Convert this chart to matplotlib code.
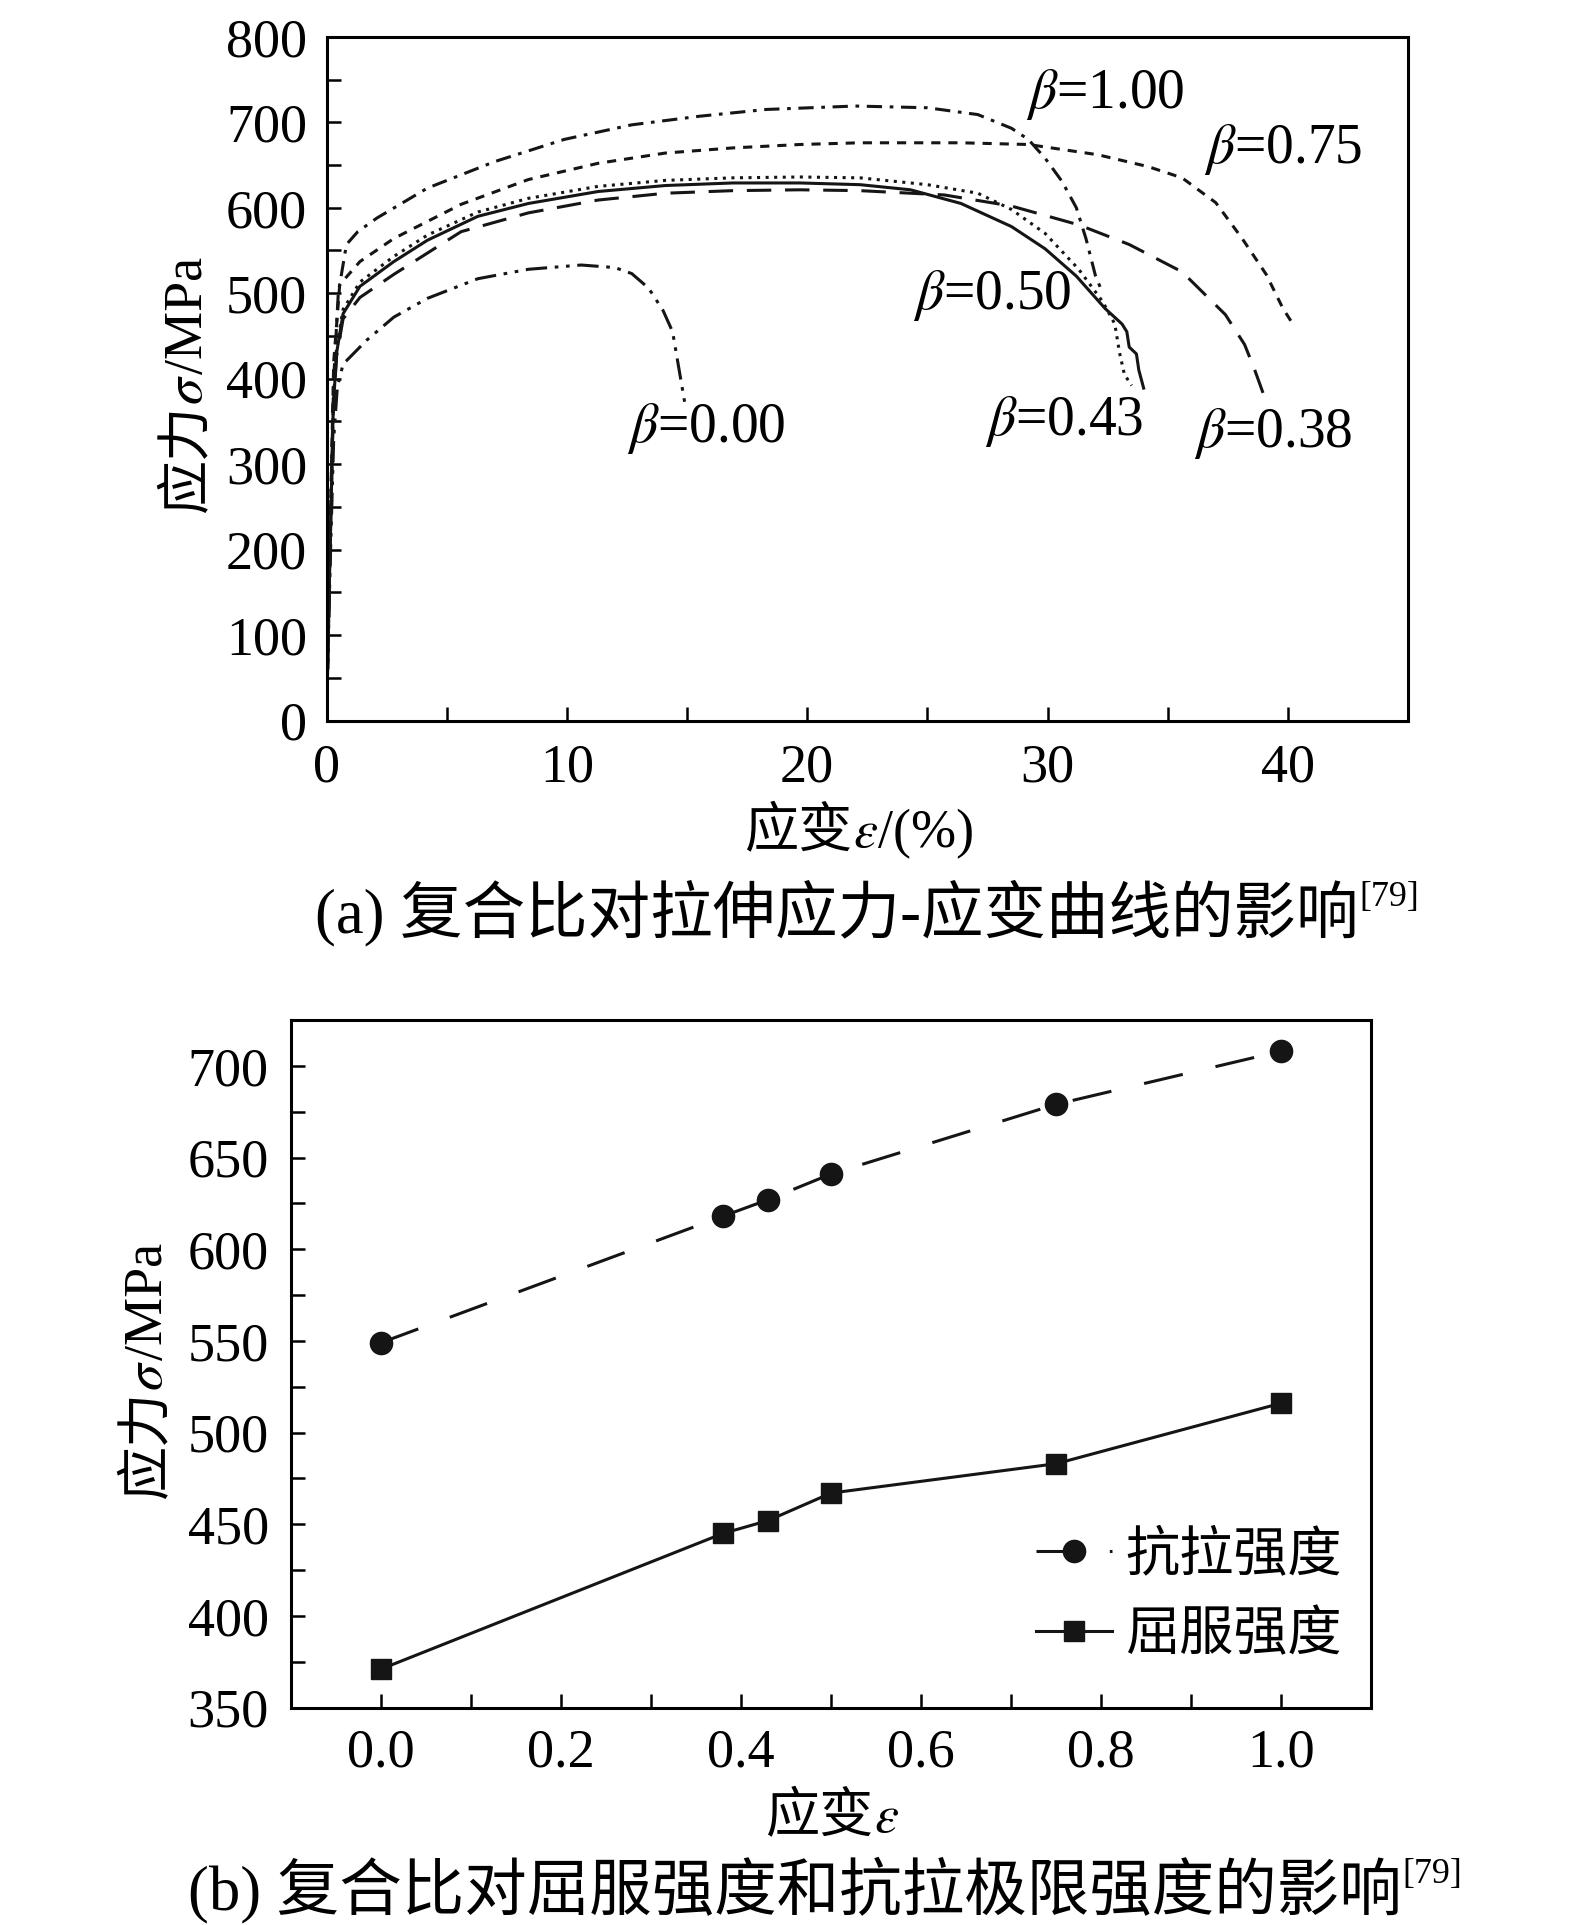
import matplotlib
matplotlib.use('Agg')
import matplotlib.pyplot as plt
from matplotlib.ticker import MultipleLocator
from matplotlib.transforms import offset_copy

plt.rcParams['font.family'] = ['Liberation Serif', 'Noto Sans CJK SC']
plt.rcParams['mathtext.fontset'] = 'stix'

# (a) stress-strain curves
eps_100 = [0, 0.15, 0.3, 0.49, 0.83, 1.3, 2.1, 4.2, 7.0, 9.9, 12.7, 15.5, 18.3, 22.0, 25.0, 27.1, 28.5, 29.2, 29.9, 30.6, 31.2, 31.6, 32.0, 32.3]
sig_100 = [0, 220, 400, 500, 557, 572, 588, 623, 654, 680, 697, 707, 715, 719, 717, 709, 693, 680, 658, 631, 600, 564, 520, 500]

eps_075 = [0, 0.15, 0.3, 0.55, 1.39, 2.8, 5.6, 8.4, 11.3, 14.1, 16.9, 19.7, 22.2, 26.4, 29.2, 32.1, 34.2, 35.6, 37.0, 38.1, 39.1, 39.8, 40.3]
sig_075 = [0, 220, 420, 510, 537, 564, 604, 633, 652, 664, 670, 674, 676, 676, 674, 662, 648, 635, 606, 564, 522, 482, 460]

eps_050 = [0, 0.15, 0.28, 0.42, 0.69, 1.39, 2.8, 4.2, 6.3, 8.4, 11.3, 14.1, 16.9, 19.7, 22.2, 25.0, 27.1, 28.5, 29.9, 31.3, 32.3, 32.8, 33.0, 33.2, 33.5]
sig_050 = [0, 200, 370, 436, 481, 513, 543, 568, 595, 611, 625, 632, 635, 636, 635, 627, 617, 598, 570, 528, 490, 464, 430, 405, 392]

eps_043 = [0, 0.15, 0.28, 0.42, 0.69, 1.39, 2.8, 4.2, 6.3, 8.4, 11.3, 14.1, 16.9, 19.7, 22.2, 24.3, 26.4, 28.5, 29.9, 31.2, 32.4, 33.1, 33.3, 33.4, 33.7, 33.8, 34.0]
sig_043 = [0, 200, 365, 430, 476, 508, 537, 562, 590, 605, 619, 626, 629, 629, 627, 621, 605, 578, 552, 520, 482, 464, 455, 437, 429, 410, 389]

eps_038 = [0, 0.15, 0.28, 0.42, 0.69, 1.39, 2.8, 5.6, 8.4, 11.3, 14.1, 16.9, 19.7, 22.2, 25.7, 28.5, 31.3, 33.4, 35.6, 37.4, 38.2, 38.6, 39.1]
sig_038 = [0, 200, 365, 426, 470, 495, 522, 572, 594, 609, 617, 620, 621, 620, 615, 602, 580, 557, 525, 475, 440, 412, 373]

eps_000 = [0, 0.15, 0.3, 0.45, 0.69, 1.67, 2.8, 4.2, 6.3, 8.4, 10.6, 12.0, 12.7, 13.4, 14.0, 14.4, 14.9]
sig_000 = [0, 180, 330, 390, 417, 445, 472, 494, 517, 528, 533, 530, 523, 506, 480, 455, 373]

curve_labels = ['1.00', '0.75', '0.50', '0.43', '0.38', '0.00']
label_eps = [32.4, 39.8, 27.7, 30.7, 39.4, 15.8]
label_sig = [733, 668, 497, 350, 336, 342]

# (b) strength vs ratio
beta_ratio = [0.0, 0.38, 0.43, 0.50, 0.75, 1.00]
tensile = [549, 618, 627, 641, 679, 708]
yield_str = [371, 445, 452, 467, 483, 516]

W, H = 1575, 1925
fig = plt.figure(figsize=(W / 100, H / 100), dpi=100)


def fpos(x, y):
    return x / W, 1 - y / H


def rich_text(x, y, pieces, size, rotation=0):
    # pieces drawn one after another, centred on (x, y) baseline, pixel coords
    renderer = fig.canvas.get_renderer()
    fx, fy = fpos(x, y)
    arts, lens = [], []
    for s, kw in pieces:
        kw = dict(kw)
        rise = kw.pop('rise', 0)
        kw.setdefault('fontsize', size)
        t = fig.text(fx, fy, s, rotation=rotation, rotation_mode='anchor',
                     ha='left', va='baseline', **kw)
        ext = t.get_window_extent(renderer)
        arts.append((t, rise))
        lens.append(ext.width if rotation == 0 else ext.height)
    pos = -sum(lens) / 2
    for (t, rise), L in zip(arts, lens):
        if rotation == 0:
            t.set_transform(offset_copy(fig.transFigure, x=pos, y=rise, units='dots'))
        else:
            t.set_transform(offset_copy(fig.transFigure, x=-rise, y=pos, units='dots'))
        pos += L


tick_fs = 39
ink = '#151515'

# ---------- (a) ----------
ax1 = fig.add_axes([326.5 / W, 1 - 720.6 / H, (1408 - 326.5) / W, (720.6 - 36.8) / H])
lw = 2.2
ax1.plot(eps_100, sig_100, color=ink, lw=lw, ls=(0, (5, 2.5, 1.2, 2.5)))
ax1.plot(eps_075, sig_075, color=ink, lw=lw, ls=(0, (3, 2.6)))
ax1.plot(eps_050, sig_050, color=ink, lw=lw, ls=(0, (1, 1.8)))
ax1.plot(eps_043, sig_043, color=ink, lw=lw, ls='-')
ax1.plot(eps_038, sig_038, color=ink, lw=lw, ls=(0, (8, 4.5)))
ax1.plot(eps_000, sig_000, color=ink, lw=lw, ls=(0, (7, 2.5, 1.2, 2.5, 1.2, 2.5)))
for lab, xe, ys in zip(curve_labels, label_eps, label_sig):
    ax1.text(xe, ys, r'$\beta$=' + lab, ha='center', va='center', fontsize=40,
             family='Liberation Serif')
ax1.set_xlim(0, 45)
ax1.set_ylim(0, 800)
ax1.xaxis.set_major_locator(MultipleLocator(10))
ax1.xaxis.set_minor_locator(MultipleLocator(5))
ax1.yaxis.set_major_locator(MultipleLocator(100))
ax1.yaxis.set_minor_locator(MultipleLocator(50))
ax1.tick_params(which='both', direction='in', length=10, width=1.8, labelsize=tick_fs)
ax1.tick_params(axis='y', pad=14)
ax1.tick_params(axis='x', pad=16)
for sp in ax1.spines.values():
    sp.set_linewidth(2.2)

# ---------- (b) ----------
ax2 = fig.add_axes([291 / W, 1 - 1707.6 / H, (1371 - 291) / W, (1707.6 - 1020) / H])
ax2.plot(beta_ratio, tensile, color=ink, lw=2.2, ls=(0, (13, 11)),
         marker='o', ms=16, label='抗拉强度')
ax2.plot(beta_ratio, yield_str, color=ink, lw=2.2, ls='-',
         marker='s', ms=15, label='屈服强度')
ax2.set_xlim(-0.1, 1.1)
ax2.set_ylim(350, 725)
ax2.xaxis.set_major_locator(MultipleLocator(0.2))
ax2.xaxis.set_minor_locator(MultipleLocator(0.1))
ax2.yaxis.set_major_locator(MultipleLocator(50))
ax2.yaxis.set_minor_locator(MultipleLocator(25))
ax2.xaxis.set_major_formatter(plt.FuncFormatter(lambda v, p: f'{v:.1f}'))
ax2.tick_params(which='both', direction='in', length=10, width=1.8, labelsize=tick_fs)
ax2.tick_params(axis='y', pad=16)
ax2.tick_params(axis='x', pad=15)
for sp in ax2.spines.values():
    sp.set_linewidth(2.2)
ax2.legend(loc='lower right', bbox_to_anchor=(1.018, -0.005), frameon=False,
           fontsize=39, handlelength=1.4, handletextpad=0.25, labelspacing=0.55)

# ---------- labels and captions ----------
cjk = {'family': ['Liberation Serif', 'Noto Sans CJK SC']}
serif = {'family': 'Liberation Serif'}
label_fs = 39
cap_fs = 45

rich_text(859, 847, [('应变', cjk), (r'$\varepsilon$', {}), ('/(%)', serif)], label_fs)
rich_text(202, 385, [('应力', cjk), (r'$\sigma$', {}), ('/MPa', serif)], label_fs, rotation=90)
rich_text(867, 932, [('(a) 复合比对拉伸应力-应变曲线的影响', cjk),
                     ('[79]', dict(serif, fontsize=26, rise=26))], cap_fs)

rich_text(832, 1832, [('应变', cjk), (r'$\varepsilon$', {})], label_fs)
rich_text(162, 1371, [('应力', cjk), (r'$\sigma$', {}), ('/MPa', serif)], label_fs, rotation=90)
rich_text(825, 1909, [('(b) 复合比对屈服强度和抗拉极限强度的影响', cjk),
                      ('[79]', dict(serif, fontsize=26, rise=26))], cap_fs)

fig.savefig('out.png', dpi=100)
